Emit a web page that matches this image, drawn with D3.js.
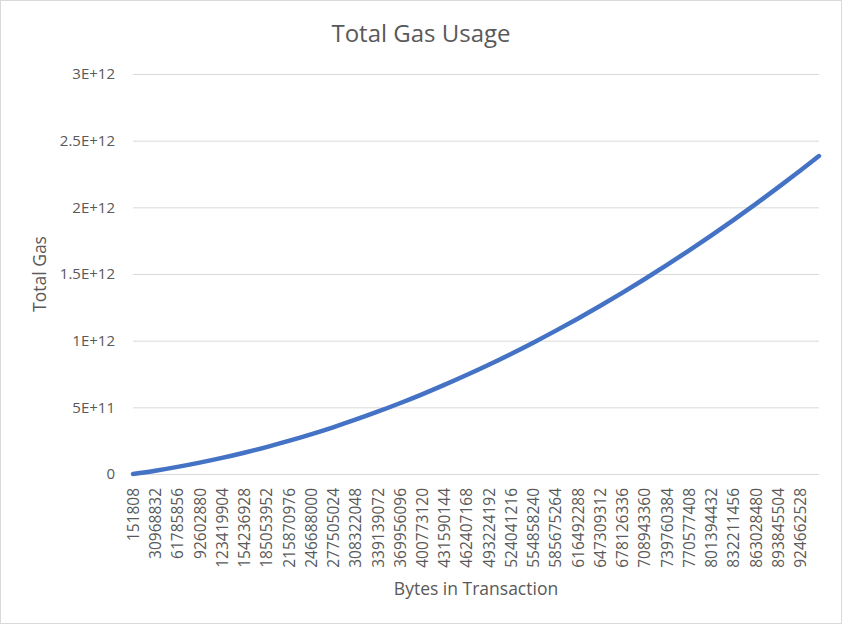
<!DOCTYPE html>
<html><head><meta charset="utf-8">
<script src="https://cdn.jsdelivr.net/npm/d3@7"></script>
<style>body{margin:0;background:#fff}svg{display:block}</style>
</head><body>
<svg id="c" width="842" height="624"></svg>
<script>
// Data
const bytes = [151808,30968832,61785856,92602880,123419904,154236928,185053952,215870976,246688000,277505024,308322048,339139072,369956096,400773120,431590144,462407168,493224192,524041216,554858240,585675264,616492288,647309312,678126336,708943360,739760384,770577408,801394432,832211456,863028480,893845504,924662528,950925312];
const gas = [0.0001e12,0.025e12,0.0534e12,0.0853e12,0.1207e12,0.1597e12,0.2021e12,0.248e12,0.2975e12,0.3505e12,0.407e12,0.467e12,0.5305e12,0.5975e12,0.668e12,0.7421e12,0.8196e12,0.9007e12,0.9852e12,1.0734e12,1.165e12,1.2601e12,1.3587e12,1.4608e12,1.5664e12,1.6756e12,1.7882e12,1.9045e12,2.0242e12,2.1474e12,2.2741e12,2.3848e12];
const xTickValues = [151808,30968832,61785856,92602880,123419904,154236928,185053952,215870976,246688000,277505024,308322048,339139072,369956096,400773120,431590144,462407168,493224192,524041216,554858240,585675264,616492288,647309312,678126336,708943360,739760384,770577408,801394432,832211456,863028480,893845504,924662528];
const yTickValues = [0,5e11,1e12,1.5e12,2e12,2.5e12,3e12];
const yTickLabels = ["0","5E+11","1E+12","1.5E+12","2E+12","2.5E+12","3E+12"];
const title = "Total Gas Usage", xTitle = "Bytes in Transaction", yTitle = "Total Gas";

const svg = d3.select("#c");
const font = "'Open Sans', sans-serif", txt = "#595959";
const L = 133, R = 819, T = 74, B = 474;
svg.append("rect").attr("x",0.5).attr("y",0.5).attr("width",841).attr("height",623)
  .attr("fill","#fff").attr("stroke","#d9d9d9");

const x = d3.scaleLinear().domain([bytes[0], bytes[bytes.length-1]]).range([L, R]);
const y = d3.scaleLinear().domain([0, 3e12]).range([B, T]);

// gridlines + y axis
const ya = d3.axisLeft(y).tickValues(yTickValues).tickSize(-(R-L)).tickPadding(18)
  .tickFormat((d,i)=>yTickLabels[i]);
const gy = svg.append("g").attr("transform",`translate(${L},0)`).call(ya);
gy.select(".domain").remove();
gy.selectAll(".tick line").attr("stroke","#d9d9d9").attr("stroke-width",1);
gy.selectAll(".tick text").attr("fill",txt).style("font-family",font).style("font-size","15px");

// x axis
const xa = d3.axisBottom(x).tickValues(xTickValues).tickSize(0).tickFormat(d3.format("d"));
const gx = svg.append("g").attr("transform",`translate(0,${B})`).call(xa);
gx.select(".domain").remove();
gx.selectAll(".tick text").attr("fill",txt).style("font-family",font).style("font-size","15.5px")
  .attr("transform","rotate(-90)").attr("text-anchor","end").attr("x",-14).attr("y",0).attr("dy","0.35em");

// line
const line = d3.line().x((d,i)=>x(bytes[i])).y(d=>y(d)).curve(d3.curveMonotoneX);
svg.append("path").datum(gas).attr("d",line).attr("fill","none")
  .attr("stroke","#4472C4").attr("stroke-width",4.5).attr("stroke-linecap","round");

// titles
svg.append("text").attr("x",421).attr("y",42).attr("text-anchor","middle")
  .attr("fill",txt).style("font-family",font).style("font-size","24px").text(title);
svg.append("text").attr("x",(L+R)/2).attr("y",595).attr("text-anchor","middle")
  .attr("fill",txt).style("font-family",font).style("font-size","17.5px").text(xTitle);
svg.append("text").attr("transform",`translate(46,${(T+B)/2}) rotate(-90)`).attr("text-anchor","middle")
  .attr("fill",txt).style("font-family",font).style("font-size","17.5px").text(yTitle);
</script>
</body></html>
